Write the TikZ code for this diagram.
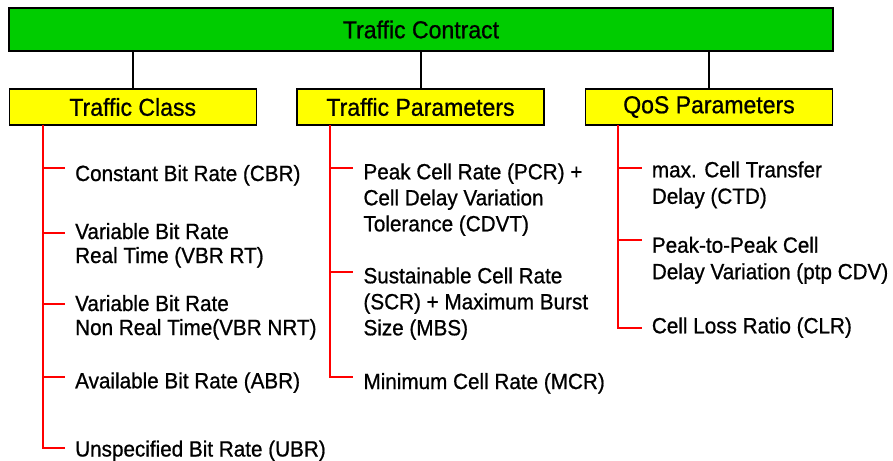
\documentclass[tikz,border=0pt]{standalone}
\usepackage{fontspec}
\setmainfont{Liberation Sans}[FakeStretch=0.94,FakeBold=0.8]
\definecolor{ctgreen}{RGB}{0,204,0}
\definecolor{ctyellow}{RGB}{255,255,0}
\definecolor{ctred}{RGB}{255,0,0}
\newcommand{\mlines}[1]{\vtop{\let\\\cr\halign{##\hfil\cr#1\crcr}}}
\begin{document}
\begin{tikzpicture}[x=1pt,y=-1pt,
  greenbox/.style={draw=black,line width=1.2pt,fill=ctgreen,minimum width=824pt,minimum height=43pt,inner sep=0pt,font=\fontsize{24.5}{28}\selectfont},
  yellowbox/.style={draw=black,line width=1.2pt,fill=ctyellow,minimum width=247pt,minimum height=36pt,inner sep=0pt,font=\fontsize{24.5}{28}\selectfont},
  conn/.style={draw=black,line width=2pt},
  tree/.style={draw=ctred,line width=2pt},
  item/.style={anchor=base west,inner sep=0pt},
  leftcol/.style={item,font=\fontsize{22}{24}\selectfont},
  midcol/.style={item,font=\fontsize{22}{26}\selectfont},
  rightcol/.style={item,font=\fontsize{22}{26.5}\selectfont}]
\useasboundingbox (0,0) rectangle (893,460);
% header boxes
\node[greenbox] (top) at (421,29.5) {Traffic Contract};
\node[yellowbox] (tclass) at (132.7,107) {Traffic Class};
\node[yellowbox] (tparam) at (420.5,107) {Traffic Parameters};
\node[yellowbox] (qos) at (709,107) {QoS Parameters};
\draw[conn] (top.south -| tclass.north) -- (tclass.north);
\draw[conn] (top.south -| tparam.north) -- (tparam.north);
\draw[conn] (top.south -| qos.north) -- (qos.north);
% left column
\coordinate (Lt) at (42.7,125);
\coordinate (lb1) at (65,168.3);
\coordinate (lb2) at (65,232.7);
\coordinate (lb3) at (65,304);
\coordinate (lb4) at (65,376.7);
\coordinate (lb5) at (65,448.3);
\draw[tree] (Lt) |- (lb5);
\foreach \b in {lb1,lb2,lb3,lb4} \draw[tree] (Lt |- \b) -- (\b);
\node[leftcol] (cbr) at (75,181) {Constant Bit Rate (CBR)};
\node[leftcol] (vbrrt) at (75,239) {\mlines{Variable Bit Rate\\Real Time (VBR RT)}};
\node[leftcol] (vbrnrt) at (75,311) {\mlines{Variable Bit Rate\\Non Real Time(VBR NRT)}};
\node[leftcol] (abr) at (75,388.3) {Available Bit Rate (ABR)};
\node[leftcol] (ubr) at (75,456.5) {Unspecified Bit Rate (UBR)};
% middle column
\coordinate (Mt) at (330,125);
\coordinate (mb1) at (353.3,168.3);
\coordinate (mb2) at (353.3,272.2);
\coordinate (mb3) at (353.3,376.7);
\draw[tree] (Mt) |- (mb3);
\foreach \b in {mb1,mb2} \draw[tree] (Mt |- \b) -- (\b);
\node[midcol] (pcr) at (363.3,179.3) {\mlines{Peak Cell Rate (PCR) +\\Cell Delay Variation\\Tolerance (CDVT)}};
\node[midcol] (scr) at (363.3,283.3) {\mlines{Sustainable Cell Rate\\(SCR) + Maximum Burst\\Size (MBS)}};
\node[midcol] (mcr) at (363.3,389) {Minimum Cell Rate (MCR)};
% right column
\coordinate (Rt) at (618.3,125);
\coordinate (rb1) at (641.7,168.3);
\coordinate (rb2) at (641.7,240);
\coordinate (rb3) at (641.7,328.3);
\draw[tree] (Rt) |- (rb3);
\foreach \b in {rb1,rb2} \draw[tree] (Rt |- \b) -- (\b);
\node[rightcol] (ctd) at (651.7,177.3) {\mlines{max. Cell Transfer\\Delay (CTD)}};
\node[rightcol] (cdv) at (651.7,252.7) {\mlines{Peak-to-Peak Cell\\Delay Variation (ptp CDV)}};
\node[rightcol] (clr) at (651.7,333.3) {Cell Loss Ratio (CLR)};
\end{tikzpicture}
\end{document}
